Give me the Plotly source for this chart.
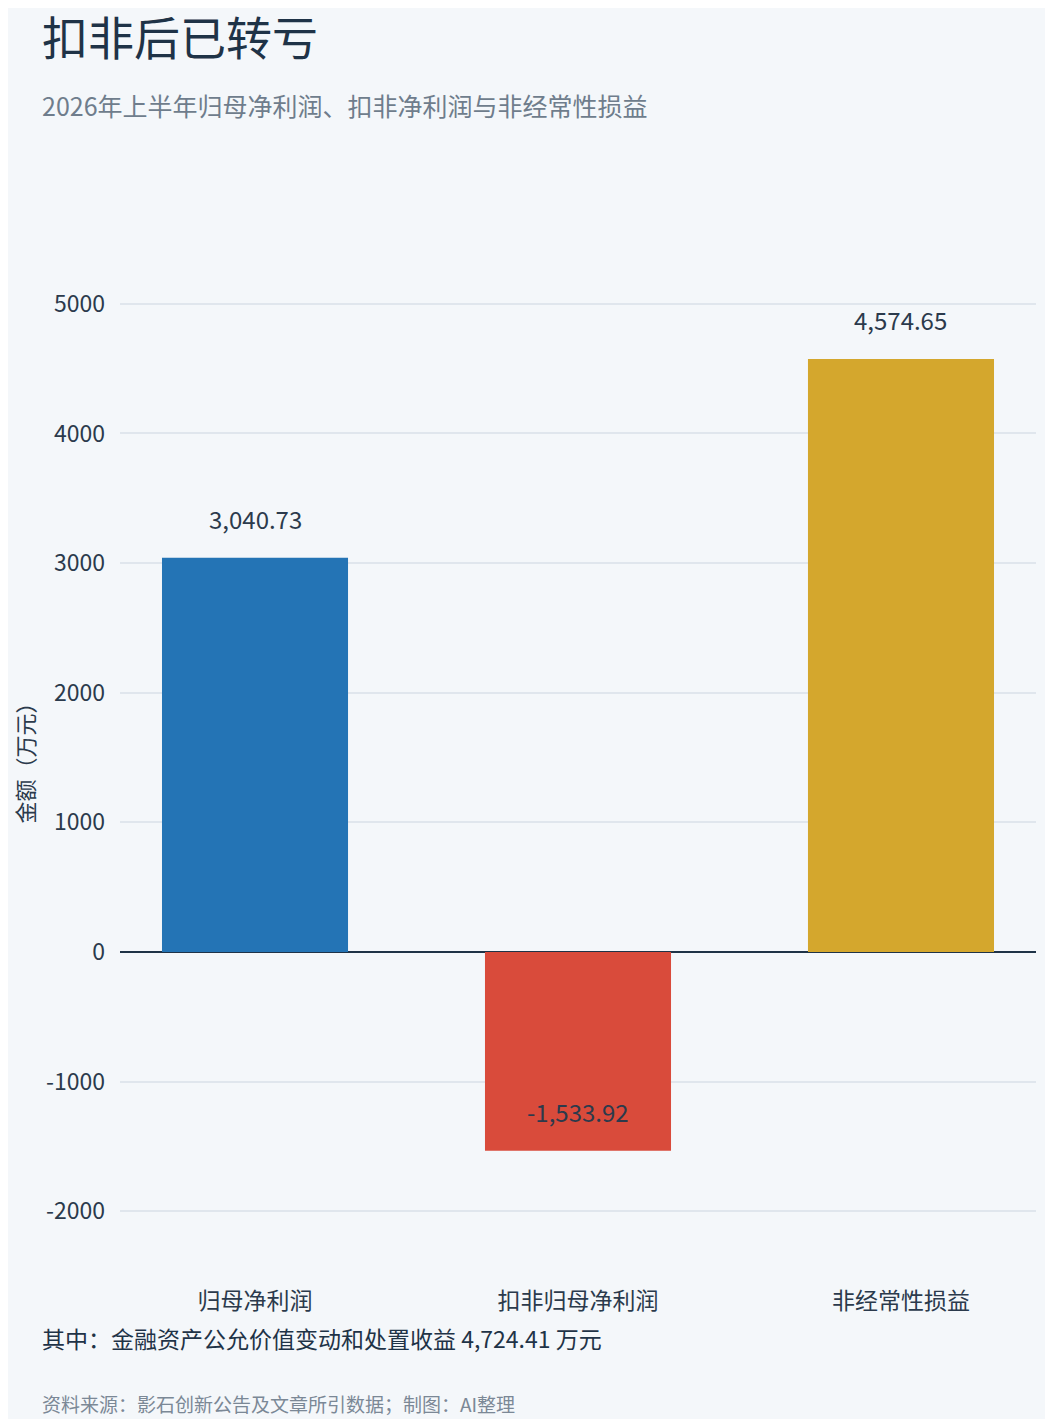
import plotly.graph_objects as go

categories = ['归母净利润', '扣非归母净利润', '非经常性损益']
values = [3040.73, -1533.92, 4574.65]
bar_colors = ['#2474b5', '#d94b3b', '#d4a72d']
y_ticks = [-2000, -1000, 0, 1000, 2000, 3000, 4000, 5000]

title = '扣非后已转亏'
subtitle = '2026年上半年归母净利润、扣非净利润与非经常性损益'
note = '其中：金融资产公允价值变动和处置收益 4,724.41 万元'
source = '资料来源：影石创新公告及文章所引数据；制图：AI整理'

FONT = 'Noto Sans CJK SC, Noto Sans, sans-serif'
BG = '#f4f7fa'
DARK = '#1f3347'
TEXT = '#2b3a4c'

# page has an 8px body margin, so figure pixels = picture pixels - 8
W, H = 1045, 1411
L, R, T, B = 112, 17, 231, 143


def px_x(px):
    return (px - L) / (W - L - R)


def px_y(py):
    return 1 - (py - T) / (H - T - B)


fig = go.Figure(go.Bar(
    x=categories, y=values, width=0.576,
    marker=dict(color=bar_colors, line=dict(width=0)),
    hoverinfo='skip',
))

# value labels sit a fixed distance above the bar end (also for the negative bar)
for c, v in zip(categories, values):
    fig.add_annotation(x=c, y=v, text=f'{v:,.2f}', showarrow=False,
                       yanchor='middle', yshift=39,
                       font=dict(size=24, color=TEXT))

paper_texts = [
    (title, 27, 46, DARK),
    (subtitle, 97, 25, '#6f7d8c'),
    (note, 1330, 23, DARK),
    (source, 1395, 19, '#7b8896'),
]
for txt, py, size, color in paper_texts:
    fig.add_annotation(xref='paper', yref='paper', x=px_x(32), y=px_y(py),
                       xanchor='left', yanchor='middle', text=txt,
                       showarrow=False, font=dict(size=size, color=color))

fig.update_layout(
    width=W, height=H,
    paper_bgcolor=BG, plot_bgcolor=BG,
    font=dict(family=FONT, color=TEXT),
    margin=dict(l=L, r=R, t=T, b=B),
    showlegend=False,
    xaxis=dict(range=[-0.418, 2.418], showgrid=False, zeroline=False,
               ticks='', ticklabelstandoff=9,
               tickfont=dict(size=23, color=TEXT)),
    yaxis=dict(range=[-2500, 5500], tickvals=y_ticks,
               ticktext=[str(t) for t in y_ticks],
               gridcolor='#e0e6ed', gridwidth=1.5,
               zeroline=True, zerolinecolor=DARK, zerolinewidth=2,
               tickfont=dict(size=23, color=TEXT), ticklabelstandoff=14,
               title=dict(text='金额（万元）', font=dict(size=22, color=TEXT),
                          standoff=12)),
)

fig.write_html('out.html')
